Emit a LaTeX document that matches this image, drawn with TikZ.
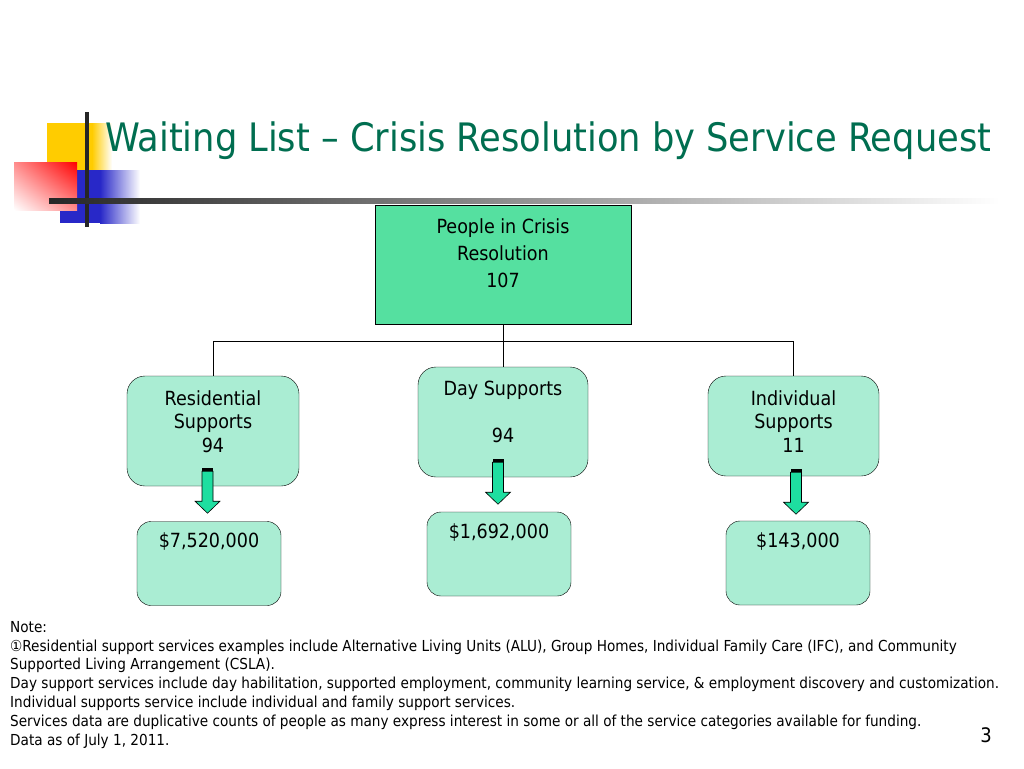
\documentclass[tikz,border=0pt]{standalone}
\usepackage{fontspec}
\setmainfont{DejaVu Sans Condensed}
\usepackage{tikz}
\usetikzlibrary{calc,positioning,shadings}

\definecolor{titlegreen}{RGB}{0,110,80}
\definecolor{topgreen}{RGB}{85,224,160}
\definecolor{boxgreen}{RGB}{170,237,211}
\definecolor{arrowgreen}{RGB}{30,222,160}
\definecolor{logoyellow}{RGB}{255,204,0}
\definecolor{logoblue}{RGB}{40,40,200}

\tikzset{
  topbox/.style={draw=black,fill=topgreen,minimum width=256pt,minimum height=119pt,inner sep=0pt},
  suppbox/.style={draw=black,fill=boxgreen,rounded corners=18pt,inner sep=0pt},
  costbox/.style={suppbox,minimum width=144pt,minimum height=84pt,rounded corners=14pt},
  boxtext/.style={align=center,inner sep=0pt,anchor=north,font=\fontsize{19.5}{23.5}\selectfont},
  blockarrow/.pic={
    \draw[fill=arrowgreen,line width=0.6pt] (-5.5,3) -- (5.5,3) -- (5.5,33) -- (12.5,33)
      -- (0,45) -- (-12.5,33) -- (-5.5,33) -- cycle;
    \fill[black] (-5.5,0) rectangle (5.5,2.5);
  }
}

\begin{document}
\begin{tikzpicture}[x=1pt,y=-1pt]
\useasboundingbox[fill=white] (0,0) rectangle (1024,768);

% logo
\fill[logoyellow] (47,123) rectangle (92,181);
\shade[left color=logoyellow,right color=white] (92,123) rectangle (112,181);
\fill[logoblue] (60,170) rectangle (100,223);
\shade[left color=logoblue,right color=white] (100,170) rectangle (140,223);
\shade[upper right=red,upper left=red!45,lower right=red!45,lower left=white] (14,162) rectangle (77,210);
\draw[line width=4pt,black!85] (87,112) -- (87,227);
\shade[left color=black!85,middle color=black!18,right color=white] (49,198.5) rectangle (1000,203.5);

% title
\node[anchor=base west,inner sep=0pt,text=titlegreen,font=\fontsize{39.2}{46}\selectfont]
  (title) at (105,151.7) {Waiting List -- Crisis Resolution by Service Request};

% boxes
\node[topbox] (top) at (503,264.5) {};
\node[suppbox,minimum width=172pt,minimum height=110pt] (res) at (213,431) {};
\node[suppbox,minimum width=170pt,minimum height=110pt] (day) at (503,422) {};
\node[suppbox,minimum width=171pt,minimum height=100pt] (ind) at (793.5,426) {};
\node[costbox] (resc) at (209,563.5) {};
\node[costbox] (dayc) at (499,554) {};
\node[costbox] (indc) at (798,563) {};

% texts
\node[boxtext,font=\fontsize{19.5}{27}\selectfont] (top label) at (503,218) {People in Crisis\\Resolution\\107};
\node[boxtext] (res label) at (213,390) {Residential\\Supports\\94};
\node[boxtext] (day label) at (503,381) {Day Supports\\[23.5pt]94};
\node[boxtext] (ind label) at (793.5,390) {Individual\\Supports\\11};
\node[boxtext] (resc label) at (209,532) {\$7,520,000};
\node[boxtext] (dayc label) at (499,523) {\$1,692,000};
\node[boxtext] (indc label) at (798,532) {\$143,000};

% connectors
\coordinate (bus) at ($(top.south)+(0,17)$);
\draw[line width=0.8pt] (top.south) -- (bus);
\draw[line width=0.8pt] (res.north) |- (bus) -| (ind.north);
\draw[line width=0.8pt] (bus) -- (day.north);

% arrows
\pic at ($(res.south)+(-5.5,-18)$) {blockarrow};
\pic at ($(day.south)+(-5,-18)$) {blockarrow};
\pic at ($(ind.south)+(2.5,-7)$) {blockarrow};

% note
\node[anchor=north west,align=left,inner sep=0pt,font=\fontsize{15.15}{18.8}\selectfont] (note) at (10,621)
  {Note:\\
   ①Residential support services examples include Alternative Living Units (ALU), Group Homes, Individual Family Care (IFC), and Community\\
   Supported Living Arrangement (CSLA).\\
   Day support services include day habilitation, supported employment, community learning service, \& employment discovery and customization.\\
   Individual supports service include individual and family support services.\\
   Services data are duplicative counts of people as many express interest in some or all of the service categories available for funding.\\
   Data as of July 1, 2011.};
\node[font=\fontsize{20}{24}\selectfont] (page) at (986,735) {3};
\end{tikzpicture}
\end{document}
